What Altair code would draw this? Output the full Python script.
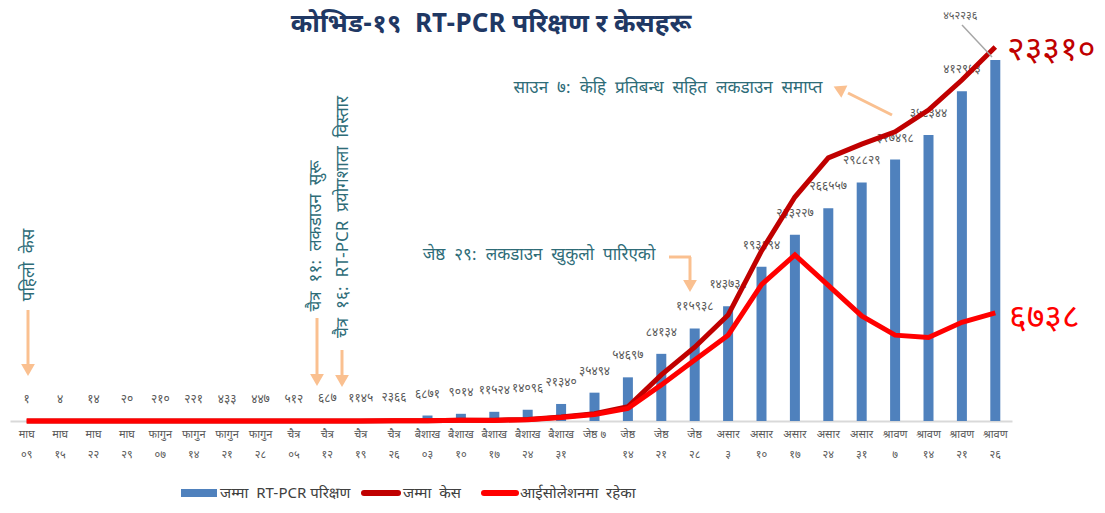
import altair as alt
import pandas as pd

# ---------------- data ----------------
months = ["माघ", "माघ", "माघ", "माघ", "फागुन", "फागुन", "फागुन", "फागुन",
          "चैत्र", "चैत्र", "चैत्र", "चैत्र", "बैशाख", "बैशाख", "बैशाख", "बैशाख",
          "बैशाख", "जेष्ठ ७", "जेष्ठ", "जेष्ठ", "जेष्ठ", "असार", "असार", "असार",
          "असार", "असार", "श्रावण", "श्रावण", "श्रावण", "श्रावण"]
days = ["०९", "१५", "२२", "२९", "०७", "१४", "२१", "२८", "०५", "१२", "१९", "२६",
        "०३", "१०", "१७", "२४", "३१", "", "१४", "२१", "२८", "३", "१०", "१७",
        "२४", "३१", "७", "१४", "२१", "२६"]
tests = [1, 4, 14, 20, 210, 221, 433, 447, 512, 687, 1145, 2366, 6871, 9014,
         11524, 14096, 21340, 35494, 54697, 84134, 115938, 143738, 193194,
         233227, 266557, 298829, 327498, 358344, 412953, 452236]
total_cases = [1, 1, 1, 1, 1, 1, 1, 1, 1, 3, 5, 9, 16, 45, 54, 99, 249, 457,
               886, 2870, 4600, 6600, 10600, 13960, 16400, 17260, 18020,
               19380, 21250, 23310]
isolation = [1, 1, 0, 0, 0, 0, 0, 0, 0, 2, 4, 8, 15, 41, 38, 77, 212, 400,
             780, 2250, 3800, 5350, 8500, 10350, 8450, 6550, 5350, 5200,
             6150, 6738]

NB = "\u00a0"
title_text = "कोभिड-१९" + NB * 2 + "RT-PCR परिक्षण र केसहरू"
legend_labels = ["जम्मा" + NB + " RT-PCR परिक्षण", "जम्मा" + NB + " केस",
                 "आईसोलेशनमा" + NB + " रहेका"]


def spaced(s, n=2):
    return s.replace(" ", NB * n)


notes = {
    "first": spaced("पहिलो केस"),
    "lock": spaced("चैत्र ११: लकडाउन सुरू"),
    "lab": spaced("चैत्र १६: RT-PCR प्रयोगशाला विस्तार"),
    "open": spaced("जेष्ठ २९: लकडाउन खुकुलो पारिएको"),
    "end": spaced("साउन ७: केहि प्रतिबन्ध सहित लकडाउन समाप्त"),
}

DEV = str.maketrans("0123456789", "०१२३४५६७८९")


def dev(n):
    return str(n).translate(DEV)


cats = [m + "|" + d if d else m for m, d in zip(months, days)]
df = pd.DataFrame({
    "cat": cats,
    "tests": tests,
    "cases": total_cases,
    "iso": isolation,
    "label": [dev(t) for t in tests],
    "idx": list(range(len(cats))),
})

# ---------------- styles / layout ----------------
FONT = "Noto Sans Devanagari, Lohit Devanagari, Noto Sans, sans-serif"
BLUE = "#4F81BD"
DARKRED = "#C00000"
RED = "#FF0000"
ORANGE = "#FAC090"
TEAL = "#2E6C78"
GREY = "#595959"
LEFT, TOP = 10, 34          # page position of the plot area's corner
W, H = 1002, 387


def px(x):
    return x - LEFT


def py(y):
    return y - TOP


X = alt.X("cat:N", sort=cats,
          scale=alt.Scale(paddingInner=0, paddingOuter=0),
          axis=alt.Axis(title=None, labelExpr="split(datum.value, '|')",
                        labelAngle=0, ticks=False, grid=False,
                        domainColor="#D9D9D9", domainWidth=2,
                        labelColor=GREY, labelFont=FONT, labelFontSize=11,
                        labelPadding=7, labelLineHeight=20))
YT = alt.Scale(domain=[0, 484800])
YC = alt.Scale(domain=[0, 24120])

base = alt.Chart(df)
bars = base.mark_bar(size=10, color=BLUE).encode(
    x=X, y=alt.Y("tests:Q", scale=YT, axis=None))
bar_labels = base.transform_filter("datum.idx < 29").mark_text(
    dy=-22, fontSize=12, color=GREY, font=FONT).encode(
    x=X, y=alt.Y("tests:Q", scale=YT, axis=None), text="label:N")
last_label = base.transform_filter("datum.idx == 29").mark_text(
    dx=-35, dy=-44, fontSize=11, color=GREY, font=FONT).encode(
    x=X, y=alt.Y("tests:Q", scale=YT, axis=None), text="label:N")
line_cases = base.mark_line(color=DARKRED, strokeWidth=5).encode(
    x=X, y=alt.Y("cases:Q", scale=YC, axis=None))
line_iso = base.mark_line(color=RED, strokeWidth=5).encode(
    x=X, y=alt.Y("iso:Q", scale=YC, axis=None))

ONE = pd.DataFrame({"a": [0]})


def seg(x1, y1, x2, y2, color=ORANGE, width=3, cap="butt"):
    return alt.Chart(ONE).mark_rule(color=color, strokeWidth=width, strokeCap=cap).encode(
        x=alt.value(px(x1)), y=alt.value(py(y1)),
        x2=alt.value(px(x2)), y2=alt.value(py(y2)))


def head(x, y, angle=0, shape="triangle-down", size=190):
    return alt.Chart(ONE).mark_point(shape=shape, filled=True, opacity=1,
                                     color=ORANGE, size=size, angle=angle).encode(
        x=alt.value(px(x)), y=alt.value(py(y)))


def txt(x, y, s, size=17, color=TEAL, angle=0, align="center", weight="normal"):
    return alt.Chart(ONE).mark_text(text=s, fontSize=size, color=color, angle=angle,
                                    align=align, baseline="middle", font=FONT,
                                    fontWeight=weight).encode(
        x=alt.value(px(x)), y=alt.value(py(y)))


annotations = [
    # arrows
    seg(28, 310, 28, 364), head(28, 370),
    seg(317, 318, 317, 374), head(317, 380),
    seg(342, 350, 342, 375), head(342, 381),
    seg(669, 257, 691, 257), seg(690, 257, 690, 280), head(690, 286),
    seg(892, 115, 848, 93), head(839, 89, angle=296, shape="triangle-up"),
    # leader line of last bar label
    seg(962, 25, 992, 57, color="#A6A6A6", width=1.5),
    # texts
    txt(491, 24, title_text, size=26, color="#1F3864", weight="bold"),
    txt(29, 265, notes["first"], angle=270),
    txt(316, 236, notes["lock"], angle=270),
    txt(343, 217, notes["lab"], angle=270),
    txt(539, 255, notes["open"]),
    txt(668, 88, notes["end"]),
    txt(1007, 50, dev(total_cases[-1]), size=34, color=DARKRED, align="left"),
    txt(1009, 318, dev(isolation[-1]), size=34, color=RED, align="left"),
    # legend
    alt.Chart(ONE).mark_rect(color=BLUE).encode(
        x=alt.value(px(181)), x2=alt.value(px(217)),
        y=alt.value(py(489)), y2=alt.value(py(497))),
    txt(220, 493, legend_labels[0], size=15, color="#404040", align="left"),
    seg(364, 493, 398, 493, color=DARKRED, width=6, cap="round"),
    txt(403, 493, legend_labels[1], size=15, color="#404040", align="left"),
    seg(484, 493, 516, 493, color=RED, width=6, cap="round"),
    txt(520, 493, legend_labels[2], size=15, color="#404040", align="left"),
]

chart = alt.layer(
    bars, bar_labels, last_label, line_cases, line_iso, *annotations
).resolve_scale(y="independent").properties(
    width=W, height=H,
    padding={"left": LEFT - 8, "top": TOP - 8, "right": 85, "bottom": 83},
    autosize=alt.AutoSizeParams(type="none"),
).configure_view(stroke=None)

chart.save("out.html", embed_options={"renderer": "svg", "actions": False})
